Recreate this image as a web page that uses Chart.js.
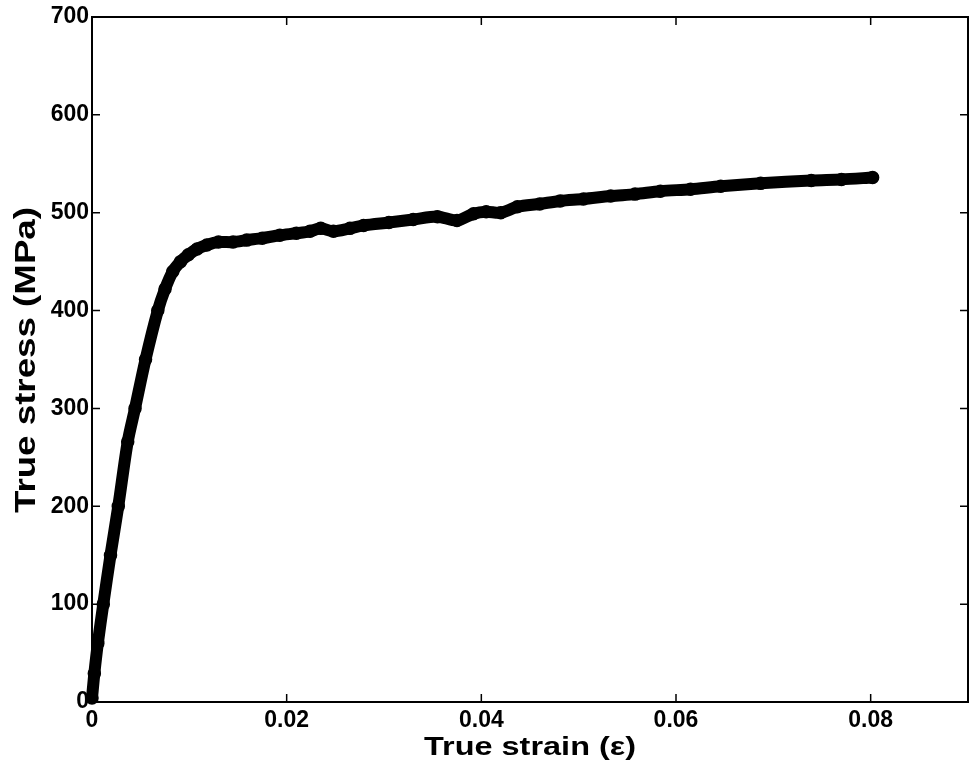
<!DOCTYPE html>
<html lang="en">
<head>
    <meta charset="UTF-8">
    <title>True stress vs true strain</title>
    <script src="https://cdn.jsdelivr.net/npm/chart.js"></script>
    <style>
        body {
            margin: 0;
            background: #fff;
        }
        #wrap {
            width: 969px;
            height: 773px;
        }
    </style>
</head>
<body>
    <div id="wrap">
        <canvas id="curve" width="969" height="773"></canvas>
    </div>

    <script>
        // values
        const strain = [0, 0.00024, 0.0006, 0.00116, 0.0019, 0.0027, 0.00367, 0.00442, 0.0055, 0.00676,
            0.0075, 0.0083, 0.0091, 0.0099, 0.0108, 0.0118, 0.013, 0.0145, 0.0159, 0.0175,
            0.0193, 0.021, 0.0224, 0.0235, 0.0248, 0.0265, 0.0279, 0.0305, 0.033, 0.0355,
            0.0375, 0.0392, 0.0405, 0.042, 0.0437, 0.046, 0.0481, 0.0505, 0.0533, 0.0558,
            0.0584, 0.0615, 0.0646, 0.0687, 0.0739, 0.077, 0.0802];
        const stress = [4, 29, 60, 100, 150, 200, 266, 300, 350, 400,
            422, 440, 450, 457, 463, 467, 470, 470, 472, 474,
            477, 479, 481, 484, 481, 484, 487, 490, 493, 496,
            492, 499, 501, 500, 506, 509, 512, 514, 517, 519,
            522, 524, 527, 530, 533, 534, 536];
        const xTicks = [0, 0.02, 0.04, 0.06, 0.08];
        const yTicks = [0, 100, 200, 300, 400, 500, 600, 700];
        const xTitle = 'True strain (\u03b5)';
        const yTitle = 'True stress (MPa)';

        const FONT = '"Liberation Sans", Arial, sans-serif';

        // box, inward ticks and the two (stretched) axis titles
        const framePlugin = {
            id: 'frame',
            afterDraw(chart) {
                const { ctx, chartArea: a, scales } = chart;
                ctx.save();
                ctx.strokeStyle = '#000';
                ctx.lineWidth = 2;
                ctx.strokeRect(a.left, a.top, a.right - a.left, a.bottom - a.top);

                ctx.lineWidth = 1.5;
                ctx.beginPath();
                xTicks.forEach(v => {
                    const px = scales.x.getPixelForValue(v);
                    ctx.moveTo(px, a.bottom); ctx.lineTo(px, a.bottom - 8);
                    ctx.moveTo(px, a.top); ctx.lineTo(px, a.top + 8);
                });
                yTicks.forEach(v => {
                    const py = scales.y.getPixelForValue(v);
                    ctx.moveTo(a.left, py); ctx.lineTo(a.left + 8, py);
                    ctx.moveTo(a.right, py); ctx.lineTo(a.right - 8, py);
                });
                ctx.stroke();

                ctx.fillStyle = '#000';
                ctx.textAlign = 'center';
                ctx.textBaseline = 'alphabetic';

                ctx.font = 'bold 26px ' + FONT;
                let w = ctx.measureText(xTitle).width;
                ctx.save();
                ctx.translate((a.left + a.right) / 2, 755);
                ctx.scale(212 / w, 1);
                ctx.fillText(xTitle, 0, 0);
                ctx.restore();

                ctx.font = 'bold 30px ' + FONT;
                w = ctx.measureText(yTitle).width;
                ctx.save();
                ctx.translate(35, 360);
                ctx.rotate(-Math.PI / 2);
                ctx.scale(306 / w, 1);
                ctx.fillText(yTitle, 0, 0);
                ctx.restore();

                ctx.restore();
            }
        };

        const points = strain.map((s, i) => ({ x: s, y: stress[i] }));

        new Chart(document.getElementById('curve'), {
            type: 'scatter',
            data: {
                datasets: [{
                    data: points,
                    showLine: true,
                    borderColor: '#000',
                    borderWidth: 12,
                    borderCapStyle: 'round',
                    borderJoinStyle: 'round',
                    tension: 0.3,
                    pointRadius: 6,
                    pointBorderWidth: 1.5,
                    pointBorderColor: '#000',
                    pointBackgroundColor: '#000',
                    clip: false
                }]
            },
            options: {
                responsive: false,
                animation: false,
                layout: {
                    autoPadding: false,
                    padding: { top: 17, right: 1, left: 0, bottom: 0 }
                },
                plugins: {
                    legend: { display: false },
                    tooltip: { enabled: false }
                },
                scales: {
                    x: {
                        type: 'linear',
                        min: 0,
                        max: 0.09,
                        grid: { display: false, drawTicks: false },
                        border: { display: false },
                        afterBuildTicks: scale => {
                            scale.ticks = xTicks.map(v => ({ value: v }));
                        },
                        afterFit: scale => {
                            scale.height = 71;
                            scale.paddingLeft = 0;
                            scale.paddingRight = 0;
                        },
                        ticks: {
                            padding: 5,
                            maxRotation: 0,
                            color: '#000',
                            font: { family: FONT, size: 23, weight: 'bold' },
                            callback: v => String(v)
                        }
                    },
                    y: {
                        min: 0,
                        max: 700,
                        grid: { display: false, drawTicks: false },
                        border: { display: false },
                        afterBuildTicks: scale => {
                            scale.ticks = yTicks.map(v => ({ value: v }));
                        },
                        afterFit: scale => {
                            scale.width = 92;
                            scale.paddingTop = 0;
                            scale.paddingBottom = 0;
                        },
                        ticks: {
                            padding: 3,
                            color: '#000',
                            font: { family: FONT, size: 23, weight: 'bold' }
                        }
                    }
                }
            },
            plugins: [framePlugin]
        });
    </script>
</body>
</html>
